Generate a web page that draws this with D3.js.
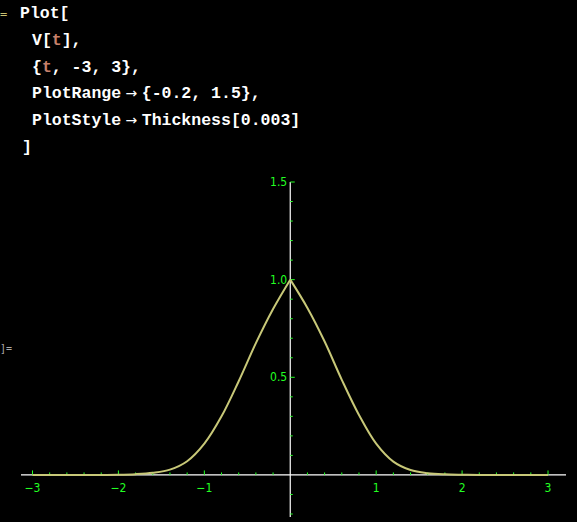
<!DOCTYPE html>
<html><head><meta charset="utf-8">
<script src="https://cdn.jsdelivr.net/npm/d3@7"></script>
<style>
html,body{margin:0;padding:0;background:#000;}
svg{display:block;}
</style></head>
<body><svg id="chart" width="577" height="522"></svg>
<script>
// code lines shown above the plot: [indent x, segments]
const codeLines = [
  [20, [["Plot[", "w"]]],
  [32, [["V[", "w"], ["t", "t"], ["],", "w"]]],
  [32, [["{", "w"], ["t", "t"], [", -3, 3},", "w"]]],
  [32, [["PlotRange", "w"], ["\u2192", "a"], ["{-0.2, 1.5},", "w"]]],
  [32, [["PlotStyle", "w"], ["\u2192", "a"], ["Thickness[0.003]", "w"]]],
  [22, [["]", "w"]]]
];
const tLeft = [-3, -2.2, -2, -1.8, -1.6, -1.4, -1.2, -1, -0.8, -0.6, -0.4, -0.2, 0];
const vLeft = [0, 0, 0.001, 0.004, 0.011, 0.027, 0.07, 0.16, 0.3, 0.48, 0.675, 0.85, 1];
const tRight = [0, 0.2, 0.4, 0.6, 0.8, 1, 1.2, 1.4, 1.6, 1.8, 2, 2.2, 3];
const vRight = [1, 0.855, 0.683, 0.487, 0.307, 0.16, 0.068, 0.025, 0.009, 0.003, 0.001, 0, 0];
const xMajor = [-3, -2, -1, 1, 2, 3];
const yMajor = [0.5, 1.0, 1.5];

const svg = d3.select("#chart");
const colors = { w: "#ffffff", t: "#c8806a" };

codeLines.forEach(([x0, segs], i) => {
  const txt = svg.append("text").attr("x", x0).attr("y", 18 + i * 26.8)
    .attr("font-family", "Liberation Mono, DejaVu Sans Mono, monospace")
    .attr("font-weight", "bold").attr("font-size", 16.5)
    .attr("xml:space", "preserve");
  segs.forEach(([s, c]) => {
    if (c === "a") txt.append("tspan").attr("fill", "#fff").attr("font-family", "DejaVu Sans").attr("font-weight", "normal").attr("font-size", 14).text(" \u2192 ");
    else txt.append("tspan").attr("fill", colors[c]).text(s);
  });
});
svg.append("text").attr("x", 0).attr("y", 18).attr("fill", "#c8c070")
  .attr("font-family", "DejaVu Sans Mono, monospace").attr("font-size", 12).text("=");
svg.append("text").attr("x", 0).attr("y", 352).attr("fill", "#aaaaaa")
  .attr("font-family", "DejaVu Sans Mono, monospace").attr("font-size", 10).text("]=");

const x = d3.scaleLinear().domain([-3, 3]).range([32.5, 548]);
const y = d3.scaleLinear().domain([-0.2, 1.5]).range([514, 182]);
const green = "#22ff22";

// axes lines
svg.append("line").attr("x1", 21).attr("x2", 566).attr("y1", y(0)).attr("y2", y(0)).attr("stroke", "#fff").attr("stroke-width", 1.2);
svg.append("line").attr("x1", x(0)).attr("x2", x(0)).attr("y1", y(1.5)).attr("y2", 517).attr("stroke", "#fff").attr("stroke-width", 1.2);

// x ticks
d3.range(-3, 3.001, 0.2).forEach(v => {
  if (Math.abs(v) < 1e-9) return;
  const major = Math.abs(v - Math.round(v)) < 1e-6;
  svg.append("line").attr("x1", x(v)).attr("x2", x(v)).attr("y1", y(0)).attr("y2", y(0) - (major ? 4.5 : 2.5))
    .attr("stroke", green).attr("stroke-width", 1);
});
xMajor.forEach(v => {
  svg.append("text").attr("x", x(v)).attr("y", y(0) + 17).attr("text-anchor", "middle")
    .attr("fill", green).attr("font-family", "DejaVu Sans Condensed, sans-serif").attr("font-size", 12)
    .text(v < 0 ? "\u2212" + (-v) : v);
});
// y ticks
d3.range(-0.2, 1.5001, 0.1).forEach(v => {
  if (Math.abs(v) < 1e-9) return;
  const major = Math.abs(v * 2 - Math.round(v * 2)) < 1e-6 && v > 0;
  svg.append("line").attr("x1", x(0)).attr("x2", x(0) + (major ? 4.5 : 2.5)).attr("y1", y(v)).attr("y2", y(v))
    .attr("stroke", green).attr("stroke-width", 1);
});
yMajor.forEach(v => {
  svg.append("text").attr("x", x(0) - 3).attr("y", y(v) + 4).attr("text-anchor", "end")
    .attr("fill", green).attr("font-family", "DejaVu Sans Condensed, sans-serif").attr("font-size", 12)
    .text(v.toFixed(1));
});

const line = d3.line().x(d => x(d[0])).y(d => y(Math.max(0, d[1]))).curve(d3.curveCatmullRom.alpha(0.5));
[[tLeft, vLeft], [tRight, vRight]].forEach(([ts, vs]) => {
  svg.append("path").datum(ts.map((t, i) => [t, vs[i]]))
    .attr("d", line)
    .attr("fill", "none").attr("stroke", "#c8c878").attr("stroke-width", 2);
});
</script></body></html>
